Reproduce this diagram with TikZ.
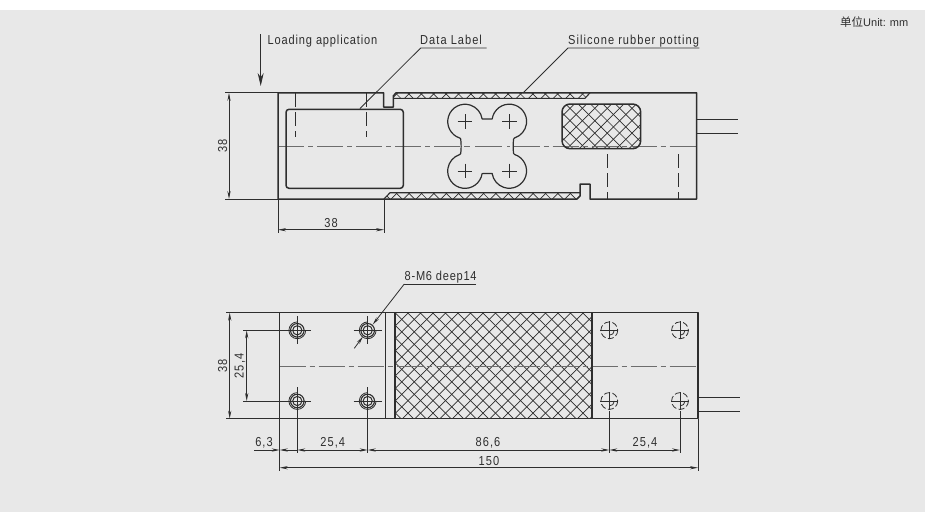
\documentclass[tikz,border=0pt]{standalone}
\usepackage{fontspec}
\usetikzlibrary{arrows.meta}
\setmainfont[FakeStretch=0.85,LetterSpace=8]{Liberation Sans}
\newfontfamily\unitfont{Liberation Sans}
\newfontfamily\cjkfont{Noto Sans CJK SC}
\definecolor{bgc}{HTML}{E8E8E8}
\definecolor{ink}{HTML}{2E2E2E}
\tikzset{
  outline/.style={draw=ink,line width=1.5pt,line join=round},
  thin line/.style={draw=ink,line width=0.8pt},
  centre line/.style={draw=ink!70,line width=1pt,dash pattern=on 26pt off 4pt on 5pt off 4pt},
  hidden line/.style={draw=ink,line width=0.8pt,dash pattern=on 14pt off 5pt},
  hatch line/.style={draw=ink,line width=0.7pt},
  label text/.style={text=ink,font=\fontsize{13}{15}\selectfont,inner sep=0pt},
  dim/.style={thin line,{Stealth[length=8pt,width=3.2pt]}-{Stealth[length=8pt,width=3.2pt]}},
  dimend/.style={thin line,-{Stealth[length=8pt,width=3.2pt]}},
}
\newcommand{\hatchlines}[3]{%
  \foreach \k in {-60,...,60}{%
    \draw[hatch line] ({#2+\k*#1-300},{#3-300}) -- ({#2+\k*#1+300},{#3+300});
    \draw[hatch line] ({#2+\k*#1+300},{#3-300}) -- ({#2+\k*#1-300},{#3+300});
  }}
\newcommand{\solidhole}[2]{%
  \draw[thin line,line width=1pt] (#1,#2) circle[radius=4.6];
  \draw[thin line,line width=1.1pt] (#1,#2) circle[radius=6.8];
  \draw[thin line] ({#1+8.4},#2) arc[start angle=0,end angle=270,radius=8.4];
  \draw[thin line] ({#1-14},#2) -- ({#1+14},#2) (#1,{#2-14}) -- (#1,{#2+14});
}
\newcommand{\blindhole}[2]{%
  \draw[thin line,dash pattern=on 6pt off 2.5pt] (#1,#2) circle[radius=8.4];
  \draw[thin line] ({#1+5},#2) arc[start angle=0,end angle=90,radius=5];
  \draw[thin line] ({#1-9},#2) -- ({#1+9},#2) (#1,{#2-9}) -- (#1,{#2+9});
}
\begin{document}
\begin{tikzpicture}[x=1pt,y=1pt,yscale=-1]
\useasboundingbox (0,0) rectangle (927,523);
\fill[bgc] (0,9.5) rectangle (925,512);
% unit
\node[text=ink,anchor=west,inner sep=0pt] (unit) at (840,22.5) {\fontsize{11.5}{13}\cjkfont 单位\fontsize{11}{13}\unitfont Unit: mm};
% ---------- top view ----------
\begin{scope}
  \clip (393.3,93) -- (590,93) -- (585,98.3) -- (393.3,98.3) -- cycle;
  \hatchlines{12.4}{483.3}{94}
\end{scope}
\begin{scope}
  \clip (384,199) -- (390,192.7) -- (580,192.7) -- (580,196) -- (577,199) -- cycle;
  \hatchlines{12.4}{520.7}{193.5}
\end{scope}
\begin{scope}
  \clip[rounded corners=8pt] (562,104) rectangle (640.7,148.7);
  \hatchlines{12.4}{570}{108.3}
\end{scope}
\draw[centre line] (278,146) -- (460,146);
\draw[centre line] (513.5,146) -- (696.7,146);
\draw[centre line,dash pattern=on 6pt off 5pt on 27pt off 5pt on 3pt] (464,146) -- (510,146);
\draw[hidden line] (295.7,93) -- (295.7,137);
\draw[hidden line] (366.7,93) -- (366.7,137);
\draw[hidden line] (607.7,154) -- (607.7,199);
\draw[hidden line] (678.3,154) -- (678.3,199);
\draw[outline] (278,92.8) -- (383.7,92.8) -- (383.7,107) -- (393.3,107) -- (393.3,96) -- (396,92.8) -- (696.7,92.8) -- (696.7,199) -- (590,199) -- (590,184) -- (580,184) -- (580,196) -- (577,199) -- (278,199) -- cycle;
\draw[outline,line width=1.1pt] (393.3,98.3) -- (585,98.3) -- (590,92.8);
\draw[outline,line width=1.1pt] (384,199) -- (390,192.7) -- (580,192.7);
\draw[outline,rounded corners=3pt] (286,109.3) rectangle (403.3,188.3);
\draw[outline,rounded corners=8pt] (562,104) rectangle (640.7,148.7);
\draw[outline,line width=1.2pt] (492.2,118.9) arc[start angle=188.5,end angle=432,radius=17.3]
  -- (513.6,139) .. controls (513,144) and (513,149) .. (513.6,153.5) -- (514.6,154.5)
  arc[start angle=-72,end angle=171.5,radius=17.3] -- (482.1,173.6)
  arc[start angle=8.5,end angle=252,radius=17.3]
  -- (460.7,153.5) .. controls (461.3,149) and (461.3,144) .. (460.7,139) -- (459.7,138)
  arc[start angle=108,end angle=351.5,radius=17.3] -- cycle;
\foreach \cx/\cy in {465/121.5,509.3/121.5,465/171,509.3/171}
  \draw[thin line] ({\cx-7.3},\cy) -- ({\cx+7.3},\cy) (\cx,{\cy-7.3}) -- (\cx,{\cy+7.3});
\draw[outline,line width=1.1pt] (696.7,119.3) -- (738,119.3) (696.7,133.3) -- (738,133.3);
% leaders top
\draw[thin line,-{Stealth[length=13pt,width=6pt]}] (260.7,34) -- (260.7,86);
\node[label text,anchor=base west] (load) at (267.5,44.3) {\addfontfeature{LetterSpace=6.5}Loading application};
\node[label text,anchor=base west] (datal) at (420,44.3) {Data Label};
\draw[thin line] (486.7,48) -- (420.7,48) -- (360,108.5);
\node[label text,anchor=base west] (sil) at (568,44.3) {Silicone rubber potting};
\draw[thin line] (699.3,48) -- (568,48) -- (523,93);
% top dims
\draw[thin line] (225,92.8) -- (278,92.8) (225,199) -- (278,199);
\draw[dim] (229,92.8) -- (229,199);
\node[label text,rotate=90] (t38a) at (222.7,146) {38};
\draw[thin line] (278,199) -- (278,233) (384,199) -- (384,233);
\draw[dim] (278,229.7) -- (384,229.7);
\node[label text] (t38b) at (331,223) {38};
% ---------- bottom view ----------
\begin{scope}
  \clip (395,312.7) rectangle (592,418.7);
  \hatchlines{12.5}{401.7}{319.3}
\end{scope}
\draw[centre line] (279.7,366) -- (698,366);
\draw[outline] (279.7,312.7) rectangle (698,418.7);
\draw[outline] (385.7,312.7) -- (385.7,418.7);
\draw[outline] (395,312.7) -- (395,418.7);
\draw[outline,line width=1.1pt] (592,312.7) -- (592,418.7);
\draw[outline,line width=1.1pt] (698,397.7) -- (740,397.7) (698,411.7) -- (740,411.7);
\solidhole{297.3}{330.3}
\solidhole{367.7}{330.3}
\solidhole{297.3}{401}
\solidhole{367.7}{401}
\blindhole{609.3}{330.3}
\blindhole{680}{330.3}
\blindhole{609.3}{401}
\blindhole{680}{401}
% leader bottom
\node[label text,anchor=base west] (m6) at (404.5,280.7) {\addfontfeature{LetterSpace=5.8}8-M6 deep14};
\draw[thin line] (476,284) -- (404.3,284);
\draw[dimend] (404.3,284) -- (372.7,324.6);
\draw[dimend] (354.3,348.3) -- (362.9,336.6);
% bottom dims
\draw[thin line] (226,312.7) -- (279.7,312.7) (226,418.7) -- (279.7,418.7);
\draw[dim] (229.7,312.7) -- (229.7,418.7);
\node[label text,rotate=90] (b38) at (222.7,366) {38};
\draw[thin line] (243,330.3) -- (283,330.3) (243,401) -- (283,401);
\draw[dim] (246.7,330.3) -- (246.7,401);
\node[label text,rotate=90] (b254) at (240,366) {25,4};
\draw[thin line] (279.7,418.7) -- (279.7,471) (698,418.7) -- (698,471);
\draw[thin line] (297.3,401) -- (297.3,453) (367.7,401) -- (367.7,453);
\draw[thin line] (609.3,411) -- (609.3,453) (680,411) -- (680,453);
\draw[dimend] (254.3,450) -- (279.7,450);
\draw[dimend] (297.3,450) -- (279.7,450);
\draw[dim] (297.3,450) -- (367.7,450);
\draw[dim] (367.7,450) -- (609.3,450);
\draw[dim] (609.3,450) -- (680,450);
\draw[dim] (279.7,467.7) -- (698,467.7);
\node[label text] (d63) at (264,443) {6,3};
\node[label text] (d254a) at (332.7,443) {25,4};
\node[label text] (d866) at (488,443) {86,6};
\node[label text] (d254b) at (645,443) {25,4};
\node[label text] (d150) at (489,461.5) {150};
\end{tikzpicture}
\end{document}
